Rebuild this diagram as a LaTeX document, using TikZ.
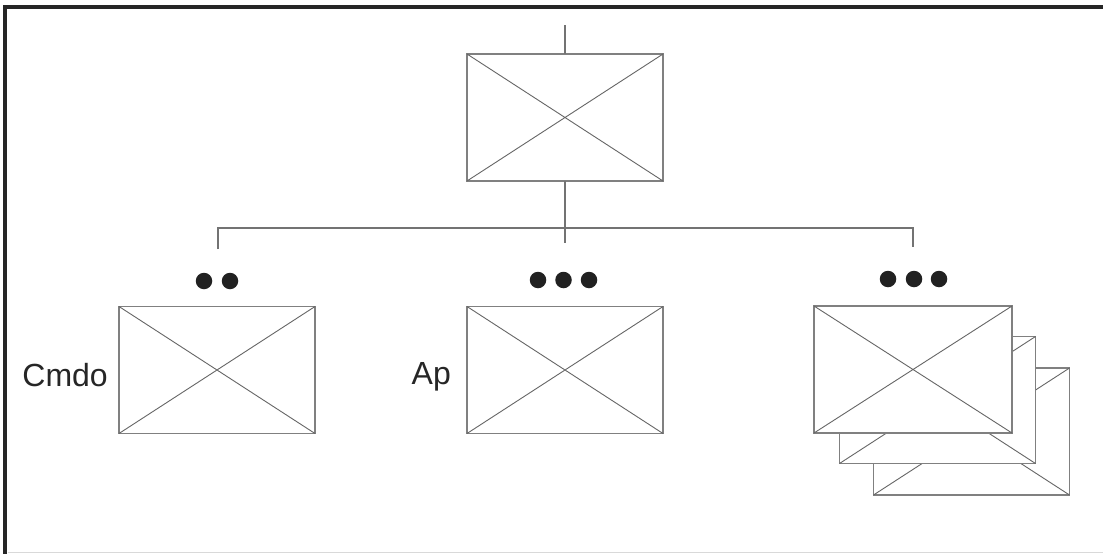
\documentclass[tikz,border=0pt]{standalone}
\usepackage{fontspec}
\setmainfont{Liberation Sans}
\begin{document}
\begin{tikzpicture}[x=1pt,y=-1pt,
  frameline/.style={line width=3.2pt,color=black!85},
  wire/.style={line width=1.3pt,color=black!55},
  xbox/.style={draw=black!50,line width=1.5pt,fill=white,minimum width=196pt,minimum height=127pt,inner sep=0pt,outer sep=0pt},
  xline/.style={line width=0.9pt,color=black!60},
  bullet/.style={circle,fill=black!87,minimum size=16.5pt,inner sep=0pt},
  lbl/.style={font=\fontsize{32}{36}\selectfont,text=black!85,inner sep=0pt}]
\useasboundingbox (0,0) rectangle (1103,554);
\fill[white] (0,0) rectangle (1103,554);
% frame
\draw[frameline] (5,554) -- (5,7) -- (1103,7);
\draw[line width=1pt,color=black!15] (8,552) -- (1103,552);

% top placeholder
\node[xbox] (top) at (565,117.5) {};
\draw[xline] (top.north west) -- (top.south east) (top.south west) -- (top.north east);

% bus
\coordinate (inT) at (565,25);
\coordinate (bL) at (218,228);
\coordinate (bR) at (913,228);
\coordinate (dL) at (218,249);
\coordinate (dM) at (565,243);
\coordinate (dR) at (913,247);
\draw[wire] (inT) -- (top.north);
\draw[wire] (top.south) -- (dM);
\draw[wire] (dL) -- (bL) -- (bR) -- (dR);

% dots
\node[bullet] (d1) at (204,281) {};
\node[bullet] (d2) at (230,281) {};
\node[bullet] (d3) at (538,280) {};
\node[bullet] (d4) at (563.5,280) {};
\node[bullet] (d5) at (589,280) {};
\node[bullet] (d6) at (888,279) {};
\node[bullet] (d7) at (914,279) {};
\node[bullet] (d8) at (939,279) {};

% left and middle placeholders
\node[xbox] (lb) at (217,370) {};
\draw[xline] (lb.north west) -- (lb.south east) (lb.south west) -- (lb.north east);
\node[xbox] (mb) at (565,370) {};
\draw[xline] (mb.north west) -- (mb.south east) (mb.south west) -- (mb.north east);

% stacked placeholders, back to front
\node[xbox] (s3) at (971.5,431.5) {};
\draw[xline] (s3.north west) -- (s3.south east) (s3.south west) -- (s3.north east);
\node[xbox] (s2) at (937.5,400) {};
\draw[xline] (s2.north west) -- (s2.south east) (s2.south west) -- (s2.north east);
\node[xbox,minimum width=198pt] (s1) at (913,369.5) {};
\draw[xline] (s1.north west) -- (s1.south east) (s1.south west) -- (s1.north east);

% labels
\node[lbl,anchor=base east] (cmdo) at (108,386) {Cmdo};
\node[lbl,anchor=base east] (ap) at (451,384) {Ap};
\end{tikzpicture}
\end{document}
